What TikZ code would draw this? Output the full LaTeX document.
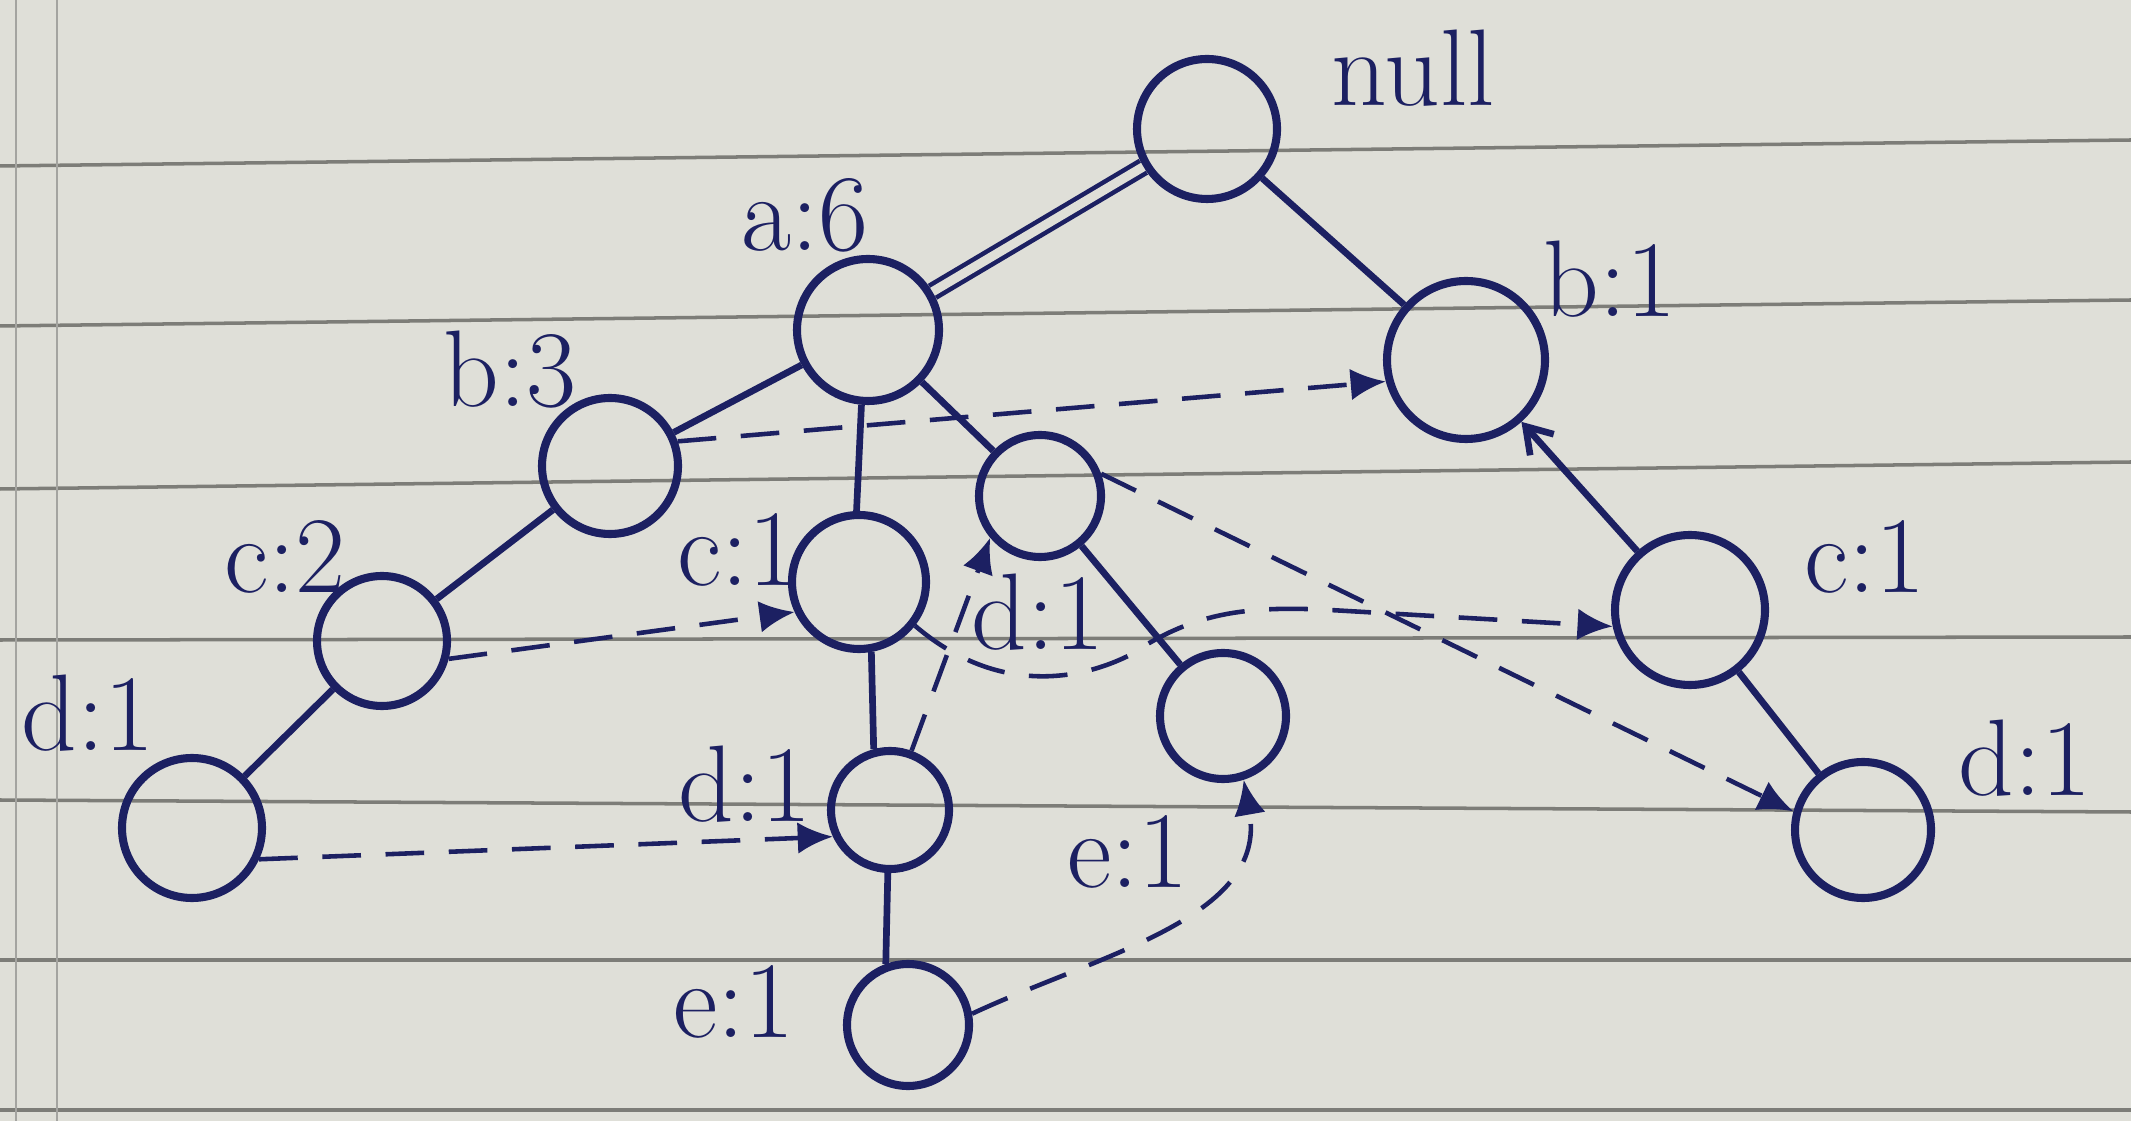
\documentclass[tikz,border=0pt]{standalone}
\usepackage{tikz}
\usetikzlibrary{arrows.meta, positioning, calc}
\definecolor{ink}{RGB}{28,32,98}
\definecolor{paper}{RGB}{223,223,216}
\definecolor{ruling}{RGB}{125,125,120}

\begin{document}
\begin{tikzpicture}[
  fpnode/.style={draw=ink, circle, line width=2.3pt, minimum size=1.3cm, inner sep=0pt},
  tedge/.style={draw=ink, line width=1.9pt},
  nlink/.style={draw=ink, line width=1.3pt, dash pattern=on 11pt off 7pt, -{Latex[length=10pt,width=9pt]}},
  lbl/.style={text=ink, font=\fontsize{31}{36}\selectfont}
]
  % sheet of lined paper
  \fill[paper] (0,0) rectangle (21.31,-11.21);
  \useasboundingbox (0,0) rectangle (21.31,-11.21);
  \foreach \yl/\yr in {1.66/1.40, 3.26/3.00, 4.89/4.62, 6.40/6.37, 8.00/8.12, 9.60/9.60, 11.10/11.10}
    \draw[ruling, line width=1pt] (0,-\yl) -- (21.31,-\yr);
  \draw[ruling!70, line width=0.8pt] (0.16,0) -- (0.16,-11.21);
  \draw[ruling!70, line width=0.8pt] (0.57,0) -- (0.57,-11.21);

  % tree nodes
  \node[fpnode, minimum size=1.40cm] (root) at (12.07,-1.29) {};
  \node[fpnode, minimum size=1.42cm] (a6) at (8.68,-3.30) {};
  \node[fpnode, minimum size=1.36cm] (b3) at (6.10,-4.66) {};
  \node[fpnode, minimum size=1.30cm] (c2) at (3.82,-6.41) {};
  \node[fpnode, minimum size=1.40cm] (dleft) at (1.92,-8.28) {};
  \node[fpnode, minimum size=1.34cm] (cmid) at (8.59,-5.82) {};
  \node[fpnode, minimum size=1.18cm] (dlow) at (8.90,-8.10) {};
  \node[fpnode, minimum size=1.22cm] (elow) at (9.08,-10.25) {};
  \node[fpnode, minimum size=1.22cm] (dmid) at (10.40,-4.96) {};
  \node[fpnode, minimum size=1.26cm] (emid) at (12.23,-7.16) {};
  \node[fpnode, minimum size=1.58cm] (b1) at (14.66,-3.60) {};
  \node[fpnode, minimum size=1.50cm] (cright) at (16.90,-6.10) {};
  \node[fpnode, minimum size=1.36cm] (dright) at (18.63,-8.30) {};

  % counts
  \node[lbl] (rootl) at (14.13,-0.68) {null};
  \node[lbl] (a6l) at (8.05,-2.15) {a:6};
  \node[lbl] (b3l) at (5.10,-3.70) {b:3};
  \node[lbl] (c2l) at (2.85,-5.57) {c:2};
  \node[lbl] (dleftl) at (0.88,-7.13) {d:1};
  \node[lbl] (cmidl) at (7.38,-5.50) {c:1};
  \node[lbl] (dmidl) at (10.38,-6.12) {d:1};
  \node[lbl] (dlowl) at (7.45,-7.84) {d:1};
  \node[lbl] (elowl) at (7.34,-10.02) {e:1};
  \node[lbl] (emidl) at (11.28,-8.52) {e:1};
  \node[lbl] (b1l) at (16.10,-2.79) {b:1};
  \node[lbl] (crightl) at (18.65,-5.57) {c:1};
  \node[lbl] (drightl) at (20.25,-7.58) {d:1};

  % tree edges
  \draw[draw=ink, line width=1.3pt, double=paper, double distance=2.6pt] (root) -- (a6);
  \draw[tedge] (root) -- (b1);
  \draw[tedge] (a6) -- (b3);
  \draw[tedge] (a6.-95) -- (cmid.92);
  \draw[tedge] (a6) -- (dmid);
  \draw[tedge] (b3) -- (c2);
  \draw[tedge] (c2) -- (dleft);
  \draw[tedge] (cmid.-80) -- (dlow.105);
  \draw[tedge] (dlow.-92) -- (elow.110);
  \draw[tedge] (dmid) -- (emid);
  \draw[tedge, -{Straight Barb[length=7pt,width=9pt]}] (cright) -- (b1);
  \draw[tedge] (cright) -- (dright);

  % node links
  \draw[nlink] (b3.20) -- (b1.195);
  \draw[nlink] (c2.-15) -- (cmid.205);
  \draw[nlink] (cmid.-38) .. controls (9.9,-6.9) and (10.7,-6.85) .. (11.3,-6.55)
    .. controls (11.9,-6.15) and (12.4,-6.05) .. (13.3,-6.1) -- (cright.192);
  \draw[nlink] (dleft.-25) -- (dlow.205);
  \draw[nlink] (dlow.70) -- (dmid.220);
  \draw[nlink] (dmid.20) -- (dright.165);
  \draw[nlink] (elow.10) to[out=25, in=-80] (emid.-72);
\end{tikzpicture}
\end{document}
